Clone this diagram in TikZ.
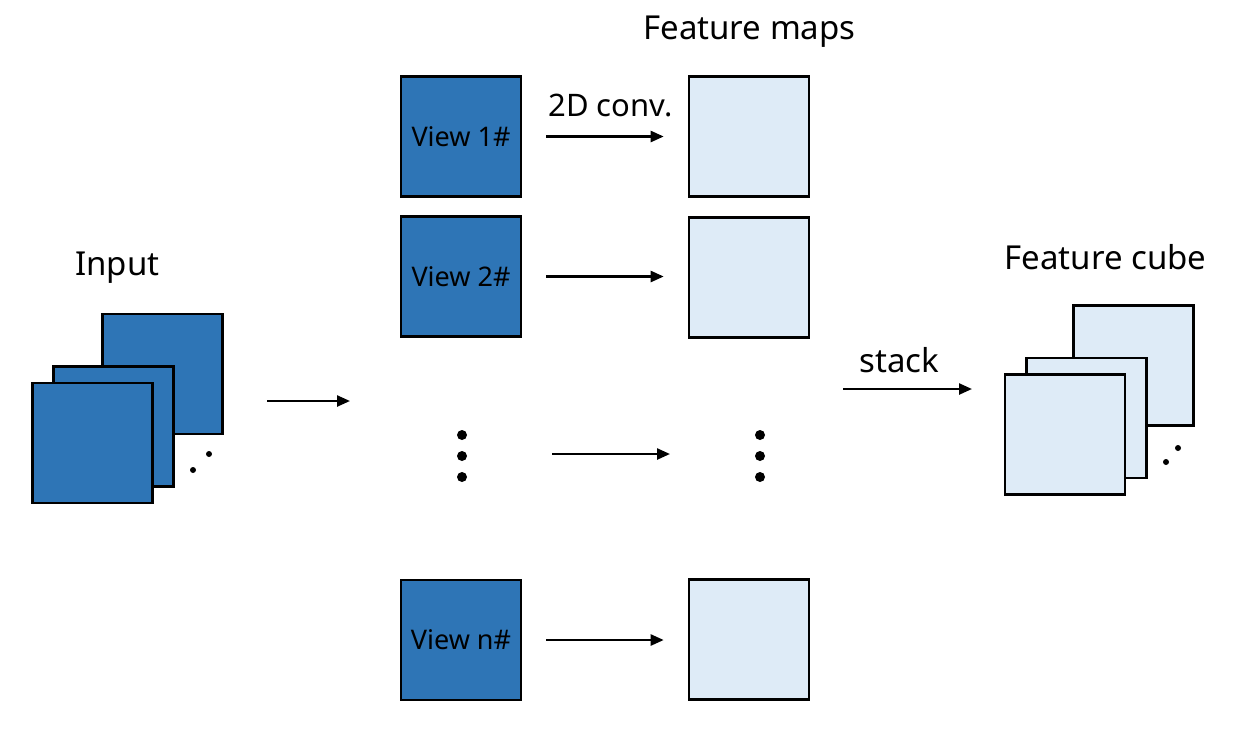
\documentclass[tikz,border=0pt]{standalone}
\usepackage{fontspec}
\setmainfont{Noto Sans}
\usetikzlibrary{arrows.meta}
\definecolor{vblue}{HTML}{2E75B6}
\definecolor{fblue}{HTML}{DEEBF7}
\begin{document}
\begin{tikzpicture}[x=1pt,y=-1pt,
  sq/.style={draw=black, line width=2.6pt, minimum width=120, minimum height=120, inner sep=0pt, font=\fontsize{27}{30}\selectfont},
  viewbox/.style={sq, fill=vblue},
  fmap/.style={sq, fill=fblue},
  title/.style={font=\fontsize{33}{36}\selectfont, anchor=base, inner sep=0pt},
  arr/.style={-{Triangle[length=13pt,width=11pt]}, line width=2.4pt},
  bigdot/.style={circle, fill=black, inner sep=0pt, minimum size=10},
  smalldot/.style={circle, fill=black, inner sep=0pt, minimum size=6}]
\useasboundingbox (0,0) rectangle (1234,740);
\fill[white] (0,0) rectangle (1234,740);

% Input stack
\node[viewbox] (in3) at (162.5,374) {};
\node[viewbox] (in2) at (113.5,426.5) {};
\node[viewbox] (in1) at (92.5,443) {};
\node[smalldot] (ind1) at (193,470) {};
\node[smalldot] (ind2) at (209,454) {};
\node[title] (intitle) at (117.5,275) {Input};

% Views
\node[viewbox] (v1) at (461,136.5) {View 1\#};
\node[viewbox] (v2) at (461,276.5) {View 2\#};
\node[viewbox] (vn) at (461,640) {View n\#};

% Feature maps
\node[fmap] (f1) at (749,136.5) {};
\node[fmap] (f2) at (749,277.5) {};
\node[fmap] (fn) at (749,639.5) {};
\node[title] (ftitle) at (749.5,39) {Feature maps};

% dots
\node[bigdot] (ld1) at (462,435) {};
\node[bigdot] (ld2) at (462,456) {};
\node[bigdot] (ld3) at (462,477) {};
\node[bigdot] (rd1) at (760,435) {};
\node[bigdot] (rd2) at (760,456) {};
\node[bigdot] (rd3) at (760,477) {};

% Feature cube
\node[fmap] (c3) at (1133.5,365.5) {};
\node[fmap] (c2) at (1086.5,418) {};
\node[fmap] (c1) at (1065,434.5) {};
\node[smalldot] (cd1) at (1166,462) {};
\node[smalldot] (cd2) at (1178,448) {};
\node[title] (ctitle) at (1105.5,269) {Feature cube};

% arrows
\draw[arr, shorten <=24pt, shorten >=24pt] (v1.east) -- (f1.west |- v1.east);
\node[title, font=\fontsize{31}{34}\selectfont] (conv) at (610.5,116) {2D conv.};
\draw[arr, shorten <=24pt, shorten >=24pt] (v2.east) -- (f2.west |- v2.east);
\draw[arr, shorten <=24pt, shorten >=24pt] (vn.east) -- (fn.west |- vn.east);

\coordinate (ma) at (552,454);
\coordinate (mb) at (670,454);
\draw[arr] (ma) -- (mb);

\coordinate (ia) at (267,401);
\coordinate (ib) at (350,401);
\draw[arr] (ia) -- (ib);

\coordinate (sa) at (843,389);
\coordinate (sb) at (972,389);
\draw[arr] (sa) -- (sb);
\node[title] (stacklbl) at (899.5,372) {stack};
\end{tikzpicture}
\end{document}
